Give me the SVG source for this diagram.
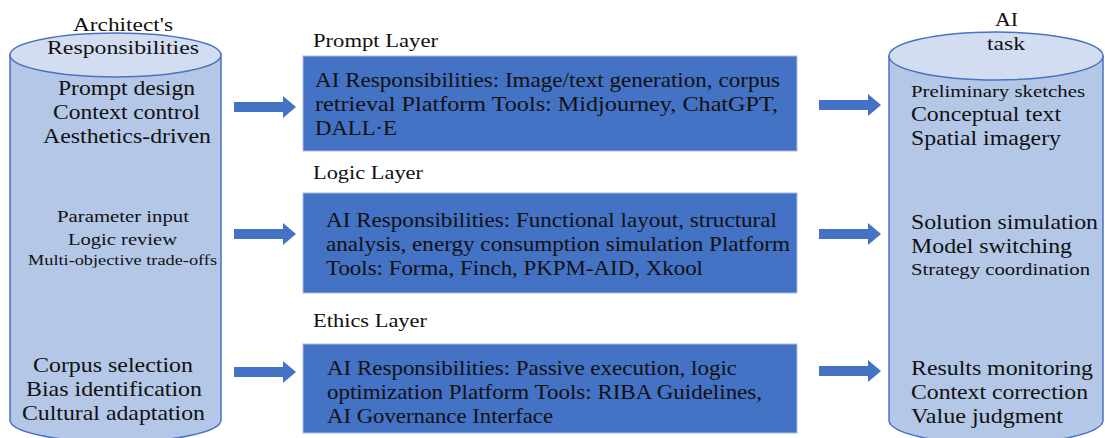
<svg xmlns="http://www.w3.org/2000/svg" width="1105" height="438" viewBox="0 0 1105 438">
  <defs>
    <style>
      text { font-family: "Liberation Serif", "Times New Roman", serif; fill: #111; }
      .cyl-body { fill: #b4c7e7; stroke: #4a72c0; stroke-width: 1.5; }
      .cyl-top { fill: #d3ddf1; stroke: #4a72c0; stroke-width: 1.5; }
      .layer { fill: #4472c4; stroke: #a9bde3; stroke-width: 1; }
      .arrow { fill: #4472c4; }
      .t21 { font-size: 21px; }
      .t19 { font-size: 19px; }
      .t16 { font-size: 16px; }
      .t15 { font-size: 15px; }
      .lbl { font-size: 18px; }
    </style>
  </defs>

  <rect width="1105" height="438" fill="#ffffff"/>

  <!-- Left store: the architect's responsibilities -->
  <g id="architect">
    <path class="cyl-body" d="M10,55 L10,420 A105.5,22 0 0 0 221,420 L221,55 Z"/>
    <ellipse class="cyl-top" cx="115.5" cy="55" rx="105.5" ry="22"/>
    <text class="t19" x="73" y="31" textLength="100" lengthAdjust="spacingAndGlyphs">Architect's</text>
    <text class="t19" x="47" y="54" textLength="152" lengthAdjust="spacingAndGlyphs">Responsibilities</text>
    <text class="t21" x="58" y="95" textLength="137" lengthAdjust="spacingAndGlyphs">Prompt design</text>
    <text class="t21" x="53" y="119" textLength="147" lengthAdjust="spacingAndGlyphs">Context control</text>
    <text class="t21" x="43" y="143" textLength="168" lengthAdjust="spacingAndGlyphs">Aesthetics-driven</text>
    <text class="t16" x="57" y="222" textLength="132" lengthAdjust="spacingAndGlyphs">Parameter input</text>
    <text class="t16" x="68" y="245" textLength="109" lengthAdjust="spacingAndGlyphs">Logic review</text>
    <text class="t15" x="28" y="265" textLength="189" lengthAdjust="spacingAndGlyphs">Multi-objective trade-offs</text>
    <text class="t21" x="33" y="372" textLength="160" lengthAdjust="spacingAndGlyphs">Corpus selection</text>
    <text class="t21" x="26" y="396" textLength="176" lengthAdjust="spacingAndGlyphs">Bias identification</text>
    <text class="t21" x="22" y="420" textLength="183" lengthAdjust="spacingAndGlyphs">Cultural adaptation</text>
  </g>

  <!-- Prompt layer -->
  <g id="prompt-layer">
    <text class="lbl" x="313" y="47" textLength="125" lengthAdjust="spacingAndGlyphs">Prompt Layer</text>
    <rect class="layer" x="303" y="56" width="494" height="95"/>
    <text class="t21" x="315" y="87" textLength="465" lengthAdjust="spacingAndGlyphs">AI Responsibilities: Image/text generation, corpus</text>
    <text class="t21" x="315" y="111" textLength="463" lengthAdjust="spacingAndGlyphs">retrieval Platform Tools: Midjourney, ChatGPT,</text>
    <text class="t21" x="315" y="135" textLength="82" lengthAdjust="spacingAndGlyphs">DALL·E</text>
  </g>

  <!-- Logic layer -->
  <g id="logic-layer">
    <text class="lbl" x="313" y="179" textLength="110" lengthAdjust="spacingAndGlyphs">Logic Layer</text>
    <rect class="layer" x="303" y="193" width="494" height="100"/>
    <text class="t21" x="326" y="227" textLength="451" lengthAdjust="spacingAndGlyphs">AI Responsibilities: Functional layout, structural</text>
    <text class="t21" x="326" y="251" textLength="464" lengthAdjust="spacingAndGlyphs">analysis, energy consumption simulation Platform</text>
    <text class="t21" x="326" y="275" textLength="377" lengthAdjust="spacingAndGlyphs">Tools: Forma, Finch, PKPM-AID, Xkool</text>
  </g>

  <!-- Ethics layer -->
  <g id="ethics-layer">
    <text class="lbl" x="313" y="327" textLength="114" lengthAdjust="spacingAndGlyphs">Ethics Layer</text>
    <rect class="layer" x="303" y="344" width="494" height="89"/>
    <text class="t21" x="327" y="375" textLength="410" lengthAdjust="spacingAndGlyphs">AI Responsibilities: Passive execution, logic</text>
    <text class="t21" x="327" y="399" textLength="435" lengthAdjust="spacingAndGlyphs">optimization Platform Tools: RIBA Guidelines,</text>
    <text class="t21" x="327" y="423" textLength="226" lengthAdjust="spacingAndGlyphs">AI Governance Interface</text>
  </g>

  <!-- Right store: AI tasks -->
  <g id="ai-task">
    <path class="cyl-body" d="M889,56 L889,420 A107,24 0 0 0 1103,420 L1103,56 Z"/>
    <ellipse class="cyl-top" cx="996" cy="56" rx="107" ry="24"/>
    <text class="t19" x="995" y="26" textLength="23" lengthAdjust="spacingAndGlyphs">AI</text>
    <text class="t19" x="987" y="50" textLength="38" lengthAdjust="spacingAndGlyphs">task</text>
    <text class="t16" x="911" y="97" textLength="174" lengthAdjust="spacingAndGlyphs">Preliminary sketches</text>
    <text class="t21" x="911" y="121" textLength="150" lengthAdjust="spacingAndGlyphs">Conceptual text</text>
    <text class="t21" x="911" y="145" textLength="150" lengthAdjust="spacingAndGlyphs">Spatial imagery</text>
    <text class="t21" x="911" y="229" textLength="187" lengthAdjust="spacingAndGlyphs">Solution simulation</text>
    <text class="t21" x="911" y="253" textLength="161" lengthAdjust="spacingAndGlyphs">Model switching</text>
    <text class="t16" x="911" y="275" textLength="179" lengthAdjust="spacingAndGlyphs">Strategy coordination</text>
    <text class="t21" x="911" y="375" textLength="182" lengthAdjust="spacingAndGlyphs">Results monitoring</text>
    <text class="t21" x="911" y="399" textLength="177" lengthAdjust="spacingAndGlyphs">Context correction</text>
    <text class="t21" x="911" y="423" textLength="152" lengthAdjust="spacingAndGlyphs">Value judgment</text>
  </g>

  <!-- Block arrows between the stores and the layers -->
  <g id="connectors">
    <path class="arrow" d="M234,102 L283,102 L283,96 L296,107 L283,118 L283,112 L234,112 Z"/>
    <path class="arrow" d="M819,100 L868,100 L868,94 L881,105 L868,116 L868,110 L819,110 Z"/>
    <path class="arrow" d="M234,229 L283,229 L283,223 L296,234 L283,245 L283,239 L234,239 Z"/>
    <path class="arrow" d="M819,229 L868,229 L868,223 L881,234 L868,245 L868,239 L819,239 Z"/>
    <path class="arrow" d="M234,367 L283,367 L283,361 L296,372 L283,383 L283,377 L234,377 Z"/>
    <path class="arrow" d="M819,366 L868,366 L868,360 L881,371 L868,382 L868,376 L819,376 Z"/>
  </g>
</svg>
